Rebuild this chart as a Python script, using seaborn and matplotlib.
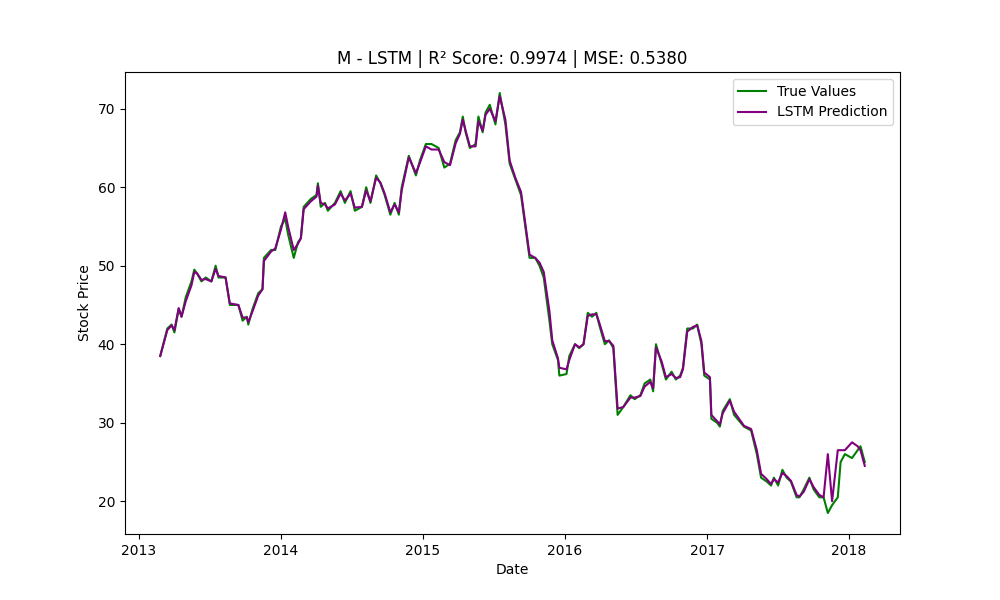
import numpy as np
import pandas as pd
import matplotlib
matplotlib.use("Agg")
import matplotlib.pyplot as plt
import seaborn as sns

# decimal-year offsets from 2013
year_offsets = [
    .15, .20, .23, .25, .28, .30, .33, .37, .39, .41, .44, .47, .51, .54, .56, .61, .64, .70, .73, .76,
    .77, .80, .84, .87, .88, .93, .96, 1.00, 1.03, 1.05, 1.09, 1.12, 1.14, 1.16, 1.21, 1.25, 1.26, 1.28, 1.31, 1.33,
    1.38, 1.42, 1.45, 1.49, 1.52, 1.57, 1.60, 1.63, 1.67, 1.70, 1.73, 1.77, 1.80, 1.83, 1.85, 1.90, 1.95, 1.98, 2.02, 2.06,
    2.11, 2.15, 2.19, 2.23, 2.26, 2.28, 2.30, 2.33, 2.37, 2.39, 2.42, 2.44, 2.47, 2.51, 2.54, 2.58, 2.61, 2.65, 2.69, 2.72,
    2.75, 2.79, 2.82, 2.85, 2.89, 2.91, 2.95, 2.96, 3.01, 3.03, 3.07, 3.10, 3.13, 3.16, 3.19, 3.22, 3.24, 3.28, 3.31, 3.34,
    3.37, 3.41, 3.46, 3.49, 3.53, 3.56, 3.60, 3.62, 3.64, 3.68, 3.71, 3.75, 3.78, 3.81, 3.83, 3.86, 3.90, 3.93, 3.96, 3.98,
    4.02, 4.03, 4.07, 4.09, 4.11, 4.16, 4.19, 4.26, 4.31, 4.35, 4.38, 4.42, 4.45, 4.47, 4.50, 4.53, 4.56, 4.59, 4.63, 4.65,
    4.68, 4.72, 4.75, 4.79, 4.82, 4.85, 4.88, 4.92, 4.94, 4.97, 5.02, 5.06, 5.08, 5.11,
]

true_values = [
    38.5, 42, 42.5, 41.5, 44.5, 43.5, 46, 48, 49.5, 49, 48, 48.5, 48, 50, 48.5, 48.5, 45, 45, 43, 43.5,
    42.5, 44.5, 46.5, 47, 51, 52, 52, 55, 56, 54, 51, 53, 53.5, 57.5, 58.5, 59, 60.5, 57.5, 58, 57,
    58, 59.5, 58, 59.5, 57, 57.5, 60, 58, 61.5, 60.5, 59, 56.5, 58, 56.5, 60, 64, 61.5, 63.5, 65.5, 65.5,
    65, 62.5, 63, 66, 67, 69, 67, 65, 65.5, 69, 67, 69.5, 70.5, 68, 72, 68, 63, 61, 59, 55,
    51, 51, 50, 48.5, 43, 40, 38, 36, 36.2, 38.5, 40, 39.5, 40, 44, 43.5, 44, 42.5, 40, 40.5, 39.5,
    31, 32, 33.5, 33, 33.5, 35, 35.5, 34, 40, 37.5, 35.5, 36.5, 35.5, 36, 37, 42, 42, 42.5, 40, 36,
    35.5, 30.5, 30, 29.5, 31.5, 33, 31, 29.5, 29, 26, 23, 22.5, 22, 23, 22, 24, 23, 22.5, 20.5, 20.5,
    21.5, 23, 21.5, 20.5, 20.5, 18.5, 19.5, 20.5, 25, 26, 25.5, 26.5, 27, 25,
]

lstm_pred = [
    38.5, 41.8, 42.4, 41.8, 44.6, 43.5, 45.5, 47.5, 49.2, 49, 48.2, 48.3, 48, 49.6, 48.7, 48.5, 45.2, 45, 43.4, 43.4,
    42.8, 44.2, 46.2, 47, 50.6, 51.8, 52.2, 54.6, 56.8, 55, 52, 52.8, 53.5, 57.2, 58.2, 58.8, 60.2, 58, 57.8, 57.3,
    57.8, 59.2, 58.3, 59.2, 57.4, 57.5, 59.6, 58.2, 61.2, 60.6, 59.2, 56.8, 57.8, 56.8, 59.6, 63.8, 61.8, 63.2, 65.2, 64.8,
    64.8, 63.2, 62.8, 65.6, 66.8, 68.6, 67.2, 65.2, 65.2, 68.4, 67.2, 69.2, 70, 68.4, 71.6, 68.6, 63.4, 61.2, 59.4, 55.4,
    51.4, 51, 50.4, 49.2, 44.2, 40.5, 38.2, 37, 36.8, 38, 40, 39.6, 40, 43.6, 43.8, 43.8, 42.8, 40.4, 40.4, 39.8,
    31.8, 32, 33.2, 33.2, 33.4, 34.6, 35.2, 34.4, 39.6, 37.8, 35.8, 36.2, 35.7, 35.8, 36.8, 41.6, 42.2, 42.4, 40.4, 36.4,
    35.8, 31, 30.2, 29.8, 31.2, 32.8, 31.4, 29.6, 29.2, 26.5, 23.5, 22.8, 22.2, 22.8, 22.4, 23.6, 23.2, 22.6, 20.8, 20.6,
    21.2, 22.8, 21.8, 20.8, 20.5, 26, 20, 26.5, 26.5, 26.5, 27.5, 27, 26.5, 24.5,
]

start = pd.Timestamp("2013-01-01")
dates = [start + pd.Timedelta(days=o * 365.25) for o in year_offsets]
df = pd.DataFrame({"Date": dates, "True": true_values, "Pred": lstm_pred})

# plain matplotlib look (black ticks and labels)
plt.rcParams['font.family'] = ['DejaVu Sans']

fig, ax = plt.subplots(figsize=(10, 6), dpi=100)
sns.lineplot(data=df, x="Date", y="True", color="green", label="True Values", ax=ax)
sns.lineplot(data=df, x="Date", y="Pred", color="purple", label="LSTM Prediction", ax=ax)

ax.set_title("M - LSTM | R² Score: 0.9974 | MSE: 0.5380")
ax.set_xlabel("Date")
ax.set_ylabel("Stock Price")
ax.legend(loc="upper right")

fig.savefig("out.png", dpi=100)
